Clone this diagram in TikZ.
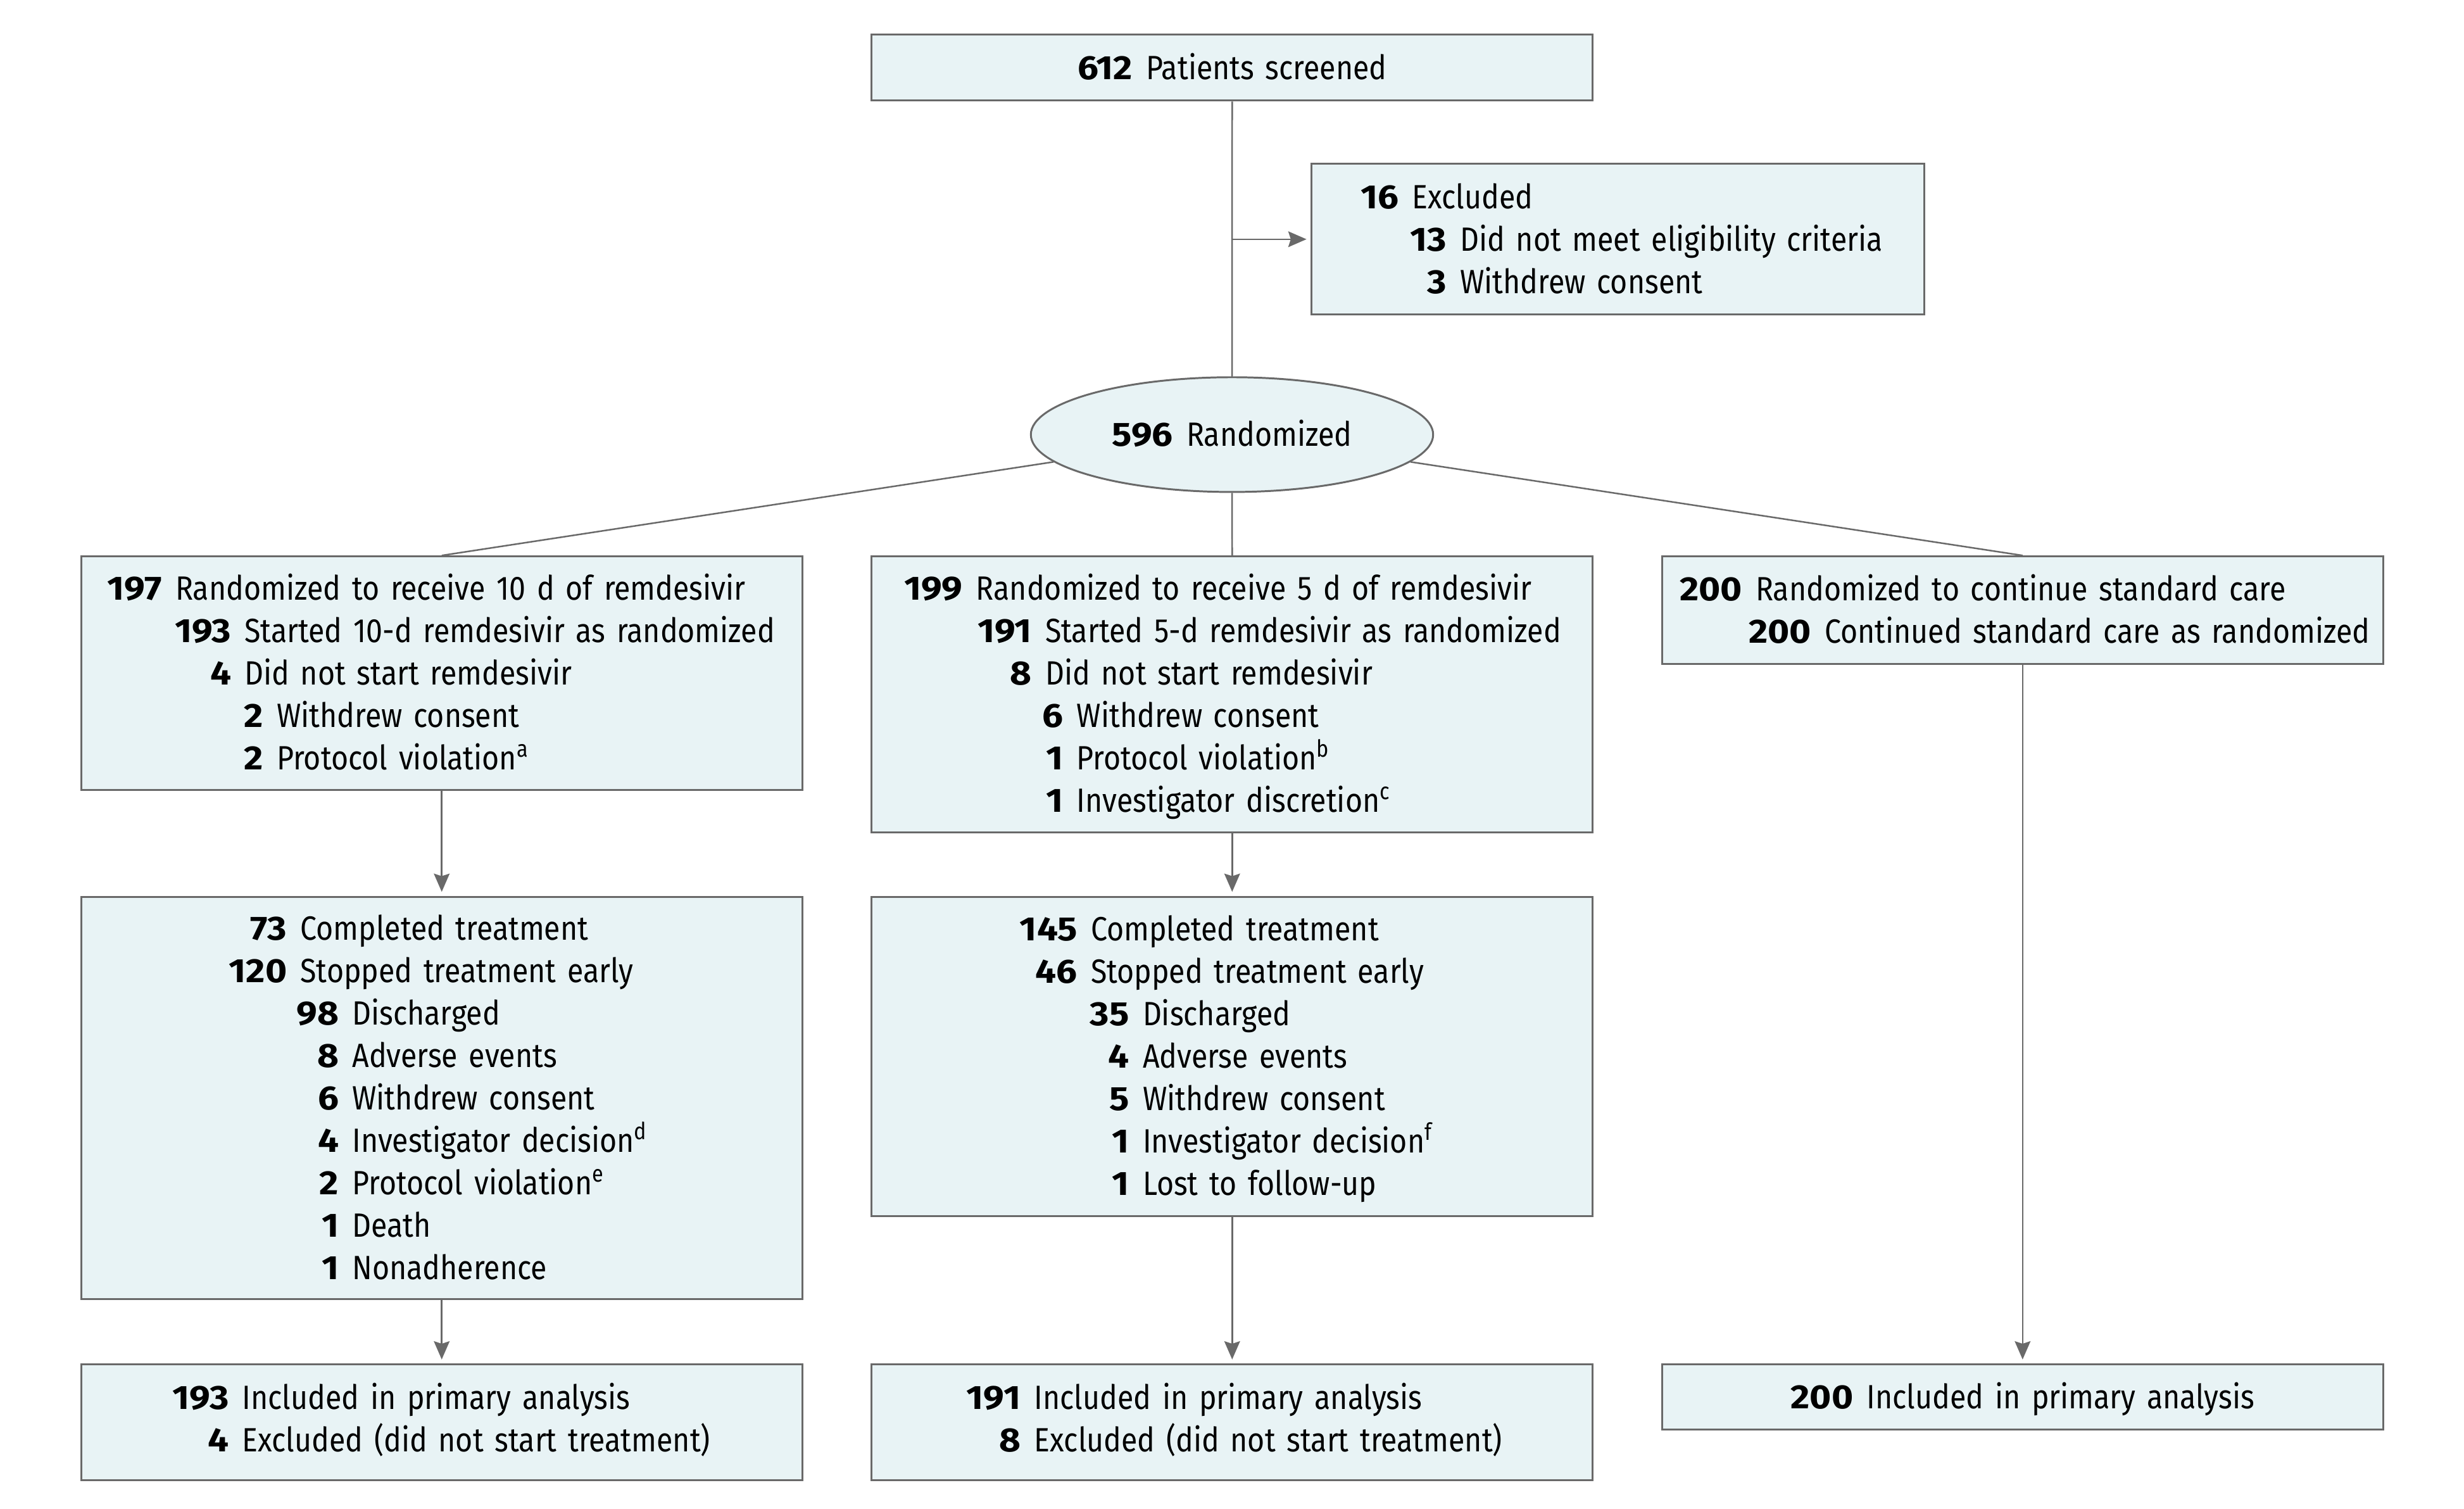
\documentclass[tikz,border=0pt]{standalone}
\usepackage{fontspec}
\setmainfont{Fira Sans}[FakeStretch=0.875,BoldFeatures={FakeStretch=1.1}]
\usetikzlibrary{shapes.geometric,arrows.meta}

\definecolor{boxfill}{RGB}{232,243,245}
\definecolor{linegray}{RGB}{105,105,105}
\newlength\upx
\setlength\upx{0.5pt}
\newcommand\rs{\rule[-3.05pt]{0pt}{13.5pt}}
\newcommand\rw[3]{\makebox[#1\upx][r]{\bfseries #2}\hspace{4.3pt}#3\rs}

\begin{document}
\begin{tikzpicture}[x=0.5pt,y=-0.5pt,
    font=\fontsize{10.7}{13.5}\selectfont,
    flowbox/.style={rectangle,draw=linegray,line width=0.6pt,fill=boxfill,
        inner sep=0pt,anchor=north west,minimum width=229.5pt,text width=229.5pt,align=left},
    conn/.style={draw=linegray,line width=0.5pt},
    arr/.style={conn,-{Stealth[length=5.8pt,width=5pt,inset=0.8pt]},shorten >=1.3pt}]
    \useasboundingbox (0,0) rectangle (1568,960);

    % draw top of the chart
    \node[flowbox,align=center,minimum height=21pt] (scr) at (554,21.4)
        {\textbf{612}\hspace{4.3pt}Patients screened\rs};
    \node[flowbox,minimum width=195pt,text width=195pt,minimum height=48pt] (exc) at (834,103.6)
        {\rw{55.5}{16}{Excluded}\\
         \rw{86}{13}{Did not meet eligibility criteria}\\
         \rw{86}{3}{Withdrew consent}};
    \node[ellipse,draw=linegray,line width=0.6pt,fill=boxfill,inner sep=0pt,
        minimum width=128pt,minimum height=36.5pt] (rand) at (784,276.5)
        {\textbf{596}\hspace{4.3pt}Randomized\rs};

    % draw randomized groups
    \node[flowbox,minimum height=74.3pt] (ten) at (51,353.4)
        {\rw{51.5}{197}{Randomized to receive 10 d of remdesivir}\\
         \rw{95.5}{193}{Started 10-d remdesivir as randomized}\\
         \rw{95.5}{4}{Did not start remdesivir}\\
         \rw{116}{2}{Withdrew consent}\\
         \rw{116}{2}{Protocol violation\textsuperscript{a}}};
    \node[flowbox,minimum height=87.8pt] (five) at (554,353.4)
        {\rw{58}{199}{Randomized to receive 5 d of remdesivir}\\
         \rw{102}{191}{Started 5-d remdesivir as randomized}\\
         \rw{102}{8}{Did not start remdesivir}\\
         \rw{122}{6}{Withdrew consent}\\
         \rw{122}{1}{Protocol violation\textsuperscript{b}}\\
         \rw{122}{1}{Investigator discretion\textsuperscript{c}}};
    \node[flowbox,minimum height=34.3pt] (std) at (1057,353.4)
        {\rw{51}{200}{Randomized to continue standard care}\\
         \rw{95}{200}{Continued standard care as randomized}};

    % draw treatment boxes
    \node[flowbox,minimum height=128pt] (tentx) at (51,570)
        {\rw{131}{73}{Completed treatment}\\
         \rw{131}{120}{Stopped treatment early}\\
         \rw{164}{98}{Discharged}\\
         \rw{164}{8}{Adverse events}\\
         \rw{164}{6}{Withdrew consent}\\
         \rw{164}{4}{Investigator decision\textsuperscript{d}}\\
         \rw{164}{2}{Protocol violation\textsuperscript{e}}\\
         \rw{164}{1}{Death}\\
         \rw{164}{1}{Nonadherence}};
    \node[flowbox,minimum height=101.5pt] (fivetx) at (554,570)
        {\rw{131}{145}{Completed treatment}\\
         \rw{131}{46}{Stopped treatment early}\\
         \rw{164}{35}{Discharged}\\
         \rw{164}{4}{Adverse events}\\
         \rw{164}{5}{Withdrew consent}\\
         \rw{164}{1}{Investigator decision\textsuperscript{f}}\\
         \rw{164}{1}{Lost to follow-up}};

    % draw analysis boxes
    \node[flowbox,minimum height=36.75pt] (tenan) at (51,867.5)
        {\rw{94}{193}{Included in primary analysis}\\
         \rw{94}{4}{Excluded (did not start treatment)}\rule[-5.05pt]{0pt}{0pt}};
    \node[flowbox,minimum height=36.75pt] (fivean) at (554,867.5)
        {\rw{95}{191}{Included in primary analysis}\\
         \rw{95}{8}{Excluded (did not start treatment)}\rule[-5.05pt]{0pt}{0pt}};
    \node[flowbox,align=center,minimum height=20.75pt] (stdan) at (1057,867.5)
        {\textbf{200}\hspace{4.3pt}Included in primary analysis\rs};

    % draw connectors
    \draw[conn] (scr.south) -- (rand.north);
    \draw[arr] (scr.south |- exc.west) -- (exc.west);
    \draw[conn] (rand) -- (ten.north);
    \draw[conn] (rand) -- (five.north);
    \draw[conn] (rand) -- (std.north);
    \draw[arr] (ten.south) -- (tentx.north);
    \draw[arr] (five.south) -- (fivetx.north);
    \draw[arr] (std.south) -- (stdan.north);
    \draw[arr] (tentx.south) -- (tenan.north);
    \draw[arr] (fivetx.south) -- (fivean.north);
\end{tikzpicture}
\end{document}
